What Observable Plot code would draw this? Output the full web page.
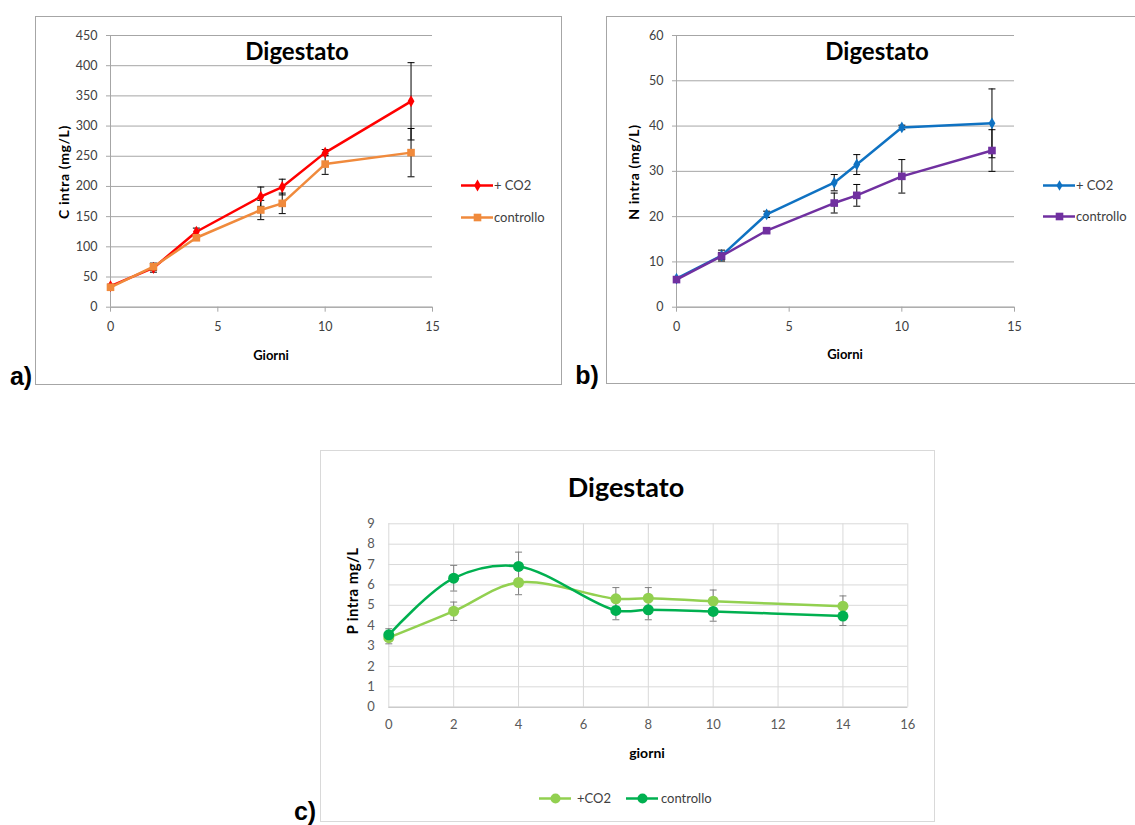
<!DOCTYPE html>
<html>
<head>
<meta charset="utf-8">
<script src="https://cdn.jsdelivr.net/npm/d3@7"></script>
<script src="https://cdn.jsdelivr.net/npm/@observablehq/plot@0.6"></script>
<style>
  html, body { margin: 0; padding: 0; background: #fff; }
  #root { position: relative; width: 1135px; height: 825px; overflow: hidden; font-family: Lato, "Open Sans", sans-serif; }
  .abs { position: absolute; white-space: nowrap; }
  .c { transform: translate(-50%, -50%); }
  .frame { position: absolute; box-sizing: border-box; }
  .lg { position: absolute; display: flex; align-items: center; font-size: 13px; color: #404040; transform: translateY(-50%); }
  .panel-lbl { font-family: "Liberation Sans", Arial, sans-serif; font-weight: bold; font-size: 25px; color: #000; }
</style>
</head>
<body>
<div id="root"></div>
<script>
// ---------------- DATA ----------------
const days = [0, 2, 4, 7, 8, 10, 14];

// a) C intra (mg/L)
const cCO2     = [35, 65, 125, 183, 199, 256, 341];
const cCO2Err  = [3, 7, 6, 16, 13, 5, 64];
const cCtrl    = [33, 67, 115, 161, 172, 237, 256];
const cCtrlErr = [3, 6, 4, 16, 17, 17, 40];

// b) N intra (mg/L)
const nCO2     = [6.3, 11.4, 20.5, 27.5, 31.5, 39.7, 40.6];
const nCO2Err  = [0.4, 1.2, 0.7, 1.8, 2.2, 0.5, 7.6];
const nCtrl    = [6.1, 11.3, 16.9, 23.0, 24.7, 28.9, 34.6];
const nCtrlErr = [0.3, 0.8, 0.5, 2.2, 2.4, 3.7, 4.6];

// c) P intra mg/L
const pCO2     = [3.41, 4.71, 6.12, 5.32, 5.35, 5.20, 4.96];
const pCO2Err  = [0.3, 0.45, 0.6, 0.55, 0.52, 0.55, 0.5];
const pCtrl    = [3.55, 6.33, 6.91, 4.75, 4.78, 4.70, 4.47];
const pCtrlErr = [0.3, 0.63, 0.7, 0.46, 0.49, 0.48, 0.46];

// ticks
const abDayTicks = [0, 5, 10, 15];
const cTicks = [0, 50, 100, 150, 200, 250, 300, 350, 400, 450];
const nTicks = [0, 10, 20, 30, 40, 50, 60];
const pTicks = [0, 1, 2, 3, 4, 5, 6, 7, 8, 9];
const pDayTicks = [0, 2, 4, 6, 8, 10, 12, 14, 16];

const seriesNames = ["+ CO2", "controllo"];
const seriesNamesC = ["+CO2", "controllo"];

// ---------------- HELPERS ----------------
const root = document.getElementById("root");
function rows(vals, errs) { return days.map((d, i) => ({x: d, y: vals[i], e: errs[i]})); }
function addText(txt, x, y, style) {
  const d = document.createElement("div");
  d.className = "abs c";
  d.textContent = txt;
  d.style.left = x + "px"; d.style.top = y + "px";
  Object.assign(d.style, style || {});
  root.appendChild(d);
  return d;
}
function addFrame(l, t, w, h, color) {
  const d = document.createElement("div");
  d.className = "frame";
  Object.assign(d.style, {left: l + "px", top: t + "px", width: w + "px", height: h + "px", border: "1px solid " + color});
  root.appendChild(d);
}
const cap = { draw(ctx, size) { const r = Math.sqrt(size / Math.PI); ctx.moveTo(-r, 0); ctx.lineTo(r, 0); } };

function errMarks(data, color, capR) {
  return [
    Plot.ruleX(data, {x: "x", y1: d => d.y - d.e, y2: d => d.y + d.e, stroke: color, strokeWidth: 1}),
    Plot.dot(data, {x: "x", y: d => d.y + d.e, symbol: cap, r: capR, stroke: color, strokeWidth: 1, fill: "none"}),
    Plot.dot(data, {x: "x", y: d => d.y - d.e, symbol: cap, r: capR, stroke: color, strokeWidth: 1, fill: "none"})
  ];
}

function legendItem(x, y, label, color, symbol, size, gap) {
  const d = document.createElement("div");
  d.className = "lg";
  d.style.left = x + "px"; d.style.top = y + "px";
  const svg = Plot.plot({
    width: 32, height: 14, margin: 0,
    x: {domain: [0, 1], axis: null}, y: {domain: [0, 1], axis: null},
    marks: [
      Plot.ruleY([0.5], {x1: 0, x2: 1, stroke: color, strokeWidth: 2.5}),
      Plot.dot([0.5], {x: d => d, y: 0.5, symbol, r: size, fill: color, stroke: "none"})
    ]
  });
  svg.style.display = "block";
  d.appendChild(svg);
  const t = document.createElement("span");
  t.textContent = label;
  t.style.marginLeft = (gap || 1) + "px";
  d.appendChild(t);
  root.appendChild(d);
}

function placeSvg(svg, l, t) {
  svg.style.position = "absolute";
  svg.style.left = l + "px"; svg.style.top = t + "px";
  root.appendChild(svg);
}

// ---------------- PANEL A & B ----------------
function panelAB(cfg) {
  const a = rows(cfg.v1, cfg.e1), b = rows(cfg.v2, cfg.e2);
  return Plot.plot({
    width: cfg.w, height: cfg.h,
    marginLeft: cfg.ml, marginRight: cfg.mr, marginTop: cfg.mt, marginBottom: cfg.mb,
    style: {fontFamily: "Lato, 'Open Sans', sans-serif", fontSize: "12.5px", background: "transparent"},
    x: {domain: [0, 15], ticks: abDayTicks},
    y: {domain: cfg.ydom, ticks: cfg.yticks},
    marks: [
      Plot.gridY(cfg.yticks, {stroke: "#a6a6a6", strokeOpacity: 1}),
      Plot.ruleX([0], {stroke: "#a6a6a6"}),
      Plot.ruleY([0], {stroke: "#a6a6a6"}),
      Plot.axisY(cfg.yticks, {tickSize: 4, tickPadding: 9, stroke: "#a6a6a6", fill: "#404040", label: null}),
      Plot.axisX(abDayTicks, {tickSize: 5, tickPadding: 10, stroke: "#a6a6a6", fill: "#404040", label: null}),
      ...errMarks(a, "#000", 3.5),
      ...errMarks(b, "#000", 3.5),
      Plot.line(a, {x: "x", y: "y", stroke: cfg.c1, strokeWidth: 2.5}),
      Plot.line(b, {x: "x", y: "y", stroke: cfg.c2, strokeWidth: 2.5}),
      Plot.dot(a, {x: "x", y: "y", symbol: "diamond", r: 3.6, fill: cfg.c1, stroke: "none"}),
      Plot.dot(b, {x: "x", y: "y", symbol: "square", r: 4.3, fill: cfg.c2, stroke: "none"})
    ]
  });
}

const yLabStyle = {fontWeight: "bold", fontSize: "14px", letterSpacing: "0.6px", color: "#000", transform: "translate(-50%,-50%) rotate(-90deg)"};

// Panel a
addFrame(35, 16, 527, 369, "#a6a6a6");
placeSvg(panelAB({w: 527, h: 369, ml: 75, mr: 130, mt: 19, mb: 78.3,
  v1: cCO2, e1: cCO2Err, v2: cCtrl, e2: cCtrlErr, ydom: [0, 450], yticks: cTicks,
  c1: "#ff0000", c2: "#f08a3c"}), 35, 16);
addText("Digestato", 297, 50, {fontWeight: "bold", fontSize: "24px", color: "#000"});
addText("C intra (mg/L)", 63, 172, yLabStyle);
addText("Giorni", 271, 355, {fontWeight: "bold", fontSize: "13px", color: "#000"});
legendItem(461, 185, seriesNames[0], "#ff0000", "diamond", 3.6);
legendItem(461, 217, seriesNames[1], "#f08a3c", "square", 4.3);
addText("a)", 21, 376, {}).className = "abs c panel-lbl";

// Panel b
addFrame(606, 16, 540, 368, "#a6a6a6");
placeSvg(panelAB({w: 529, h: 368, ml: 70, mr: 121, mt: 19, mb: 77.3,
  v1: nCO2, e1: nCO2Err, v2: nCtrl, e2: nCtrlErr, ydom: [0, 60], yticks: nTicks,
  c1: "#0f72c2", c2: "#7030a0"}), 606, 16);
addText("Digestato", 877, 50, {fontWeight: "bold", fontSize: "24px", color: "#000"});
addText("N intra (mg/L)", 633, 172, yLabStyle);
addText("Giorni", 845, 354, {fontWeight: "bold", fontSize: "13px", color: "#000"});
legendItem(1043, 185, seriesNames[0], "#0f72c2", "diamond", 3.2);
legendItem(1043, 216, seriesNames[1], "#7030a0", "square", 4.3);
addText("b)", 587, 375, {}).className = "abs c panel-lbl";

// ---------------- PANEL C ----------------
addFrame(320, 450, 615, 372, "#d9d9d9");
{
  const a = rows(pCO2, pCO2Err), b = rows(pCtrl, pCtrlErr);
  const svg = Plot.plot({
    width: 615, height: 372,
    marginLeft: 68.3, marginRight: 27.7, marginTop: 73.3, marginBottom: 115.3,
    style: {fontFamily: "Lato, 'Open Sans', sans-serif", fontSize: "13px", background: "transparent"},
    x: {domain: [0, 16], ticks: pDayTicks},
    y: {domain: [0, 9], ticks: pTicks},
    marks: [
      Plot.gridY(pTicks, {stroke: "#d9d9d9", strokeOpacity: 1}),
      Plot.gridX(pDayTicks, {stroke: "#d9d9d9", strokeOpacity: 1}),
      Plot.ruleY([0], {stroke: "#bfbfbf"}),
      Plot.axisY(pTicks, {tickSize: 0, tickPadding: 14, fill: "#595959", label: null}),
      Plot.axisX(pDayTicks, {tickSize: 0, tickPadding: 13, fill: "#595959", label: null}),
      ...errMarks(a, "#7f7f7f", 3.5),
      ...errMarks(b, "#7f7f7f", 3.5),
      Plot.line(a, {x: "x", y: "y", stroke: "#92d050", strokeWidth: 2.5, curve: "catmull-rom"}),
      Plot.line(b, {x: "x", y: "y", stroke: "#00b050", strokeWidth: 2.5, curve: "catmull-rom"}),
      Plot.dot(a, {x: "x", y: "y", r: 5.5, fill: "#92d050", stroke: "none"}),
      Plot.dot(b, {x: "x", y: "y", r: 5.5, fill: "#00b050", stroke: "none"})
    ]
  });
  placeSvg(svg, 320, 450);
}
addText("Digestato", 626, 486, {fontWeight: "bold", fontSize: "27px", color: "#000"});
addText("P intra mg/L", 352, 591, {fontWeight: "bold", fontSize: "15px", letterSpacing: "0.4px", color: "#000", transform: "translate(-50%,-50%) rotate(-90deg)"});
addText("giorni", 647, 752, {fontWeight: "bold", fontSize: "14px", color: "#000"});
legendItem(539, 798, seriesNamesC[0], "#92d050", "circle", 5, 6);
legendItem(626, 798, seriesNamesC[1], "#00b050", "circle", 5, 3);
addText("c)", 305, 811, {}).className = "abs c panel-lbl";
</script>
</body>
</html>
